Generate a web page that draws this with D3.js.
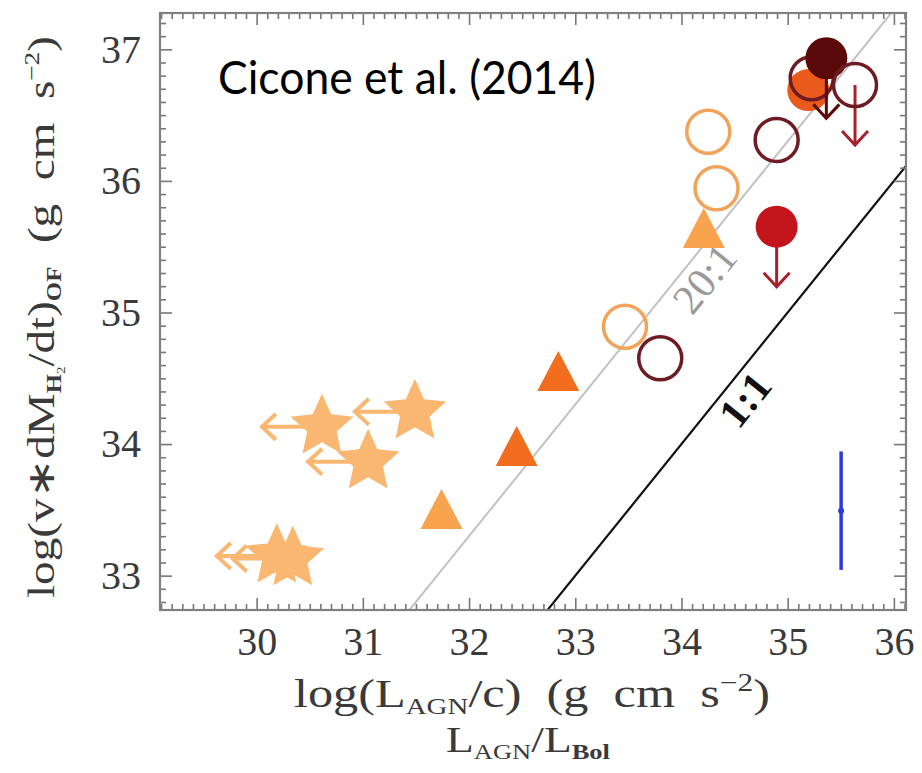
<!DOCTYPE html>
<html><head><meta charset="utf-8">
<script src="https://cdn.jsdelivr.net/npm/d3@7"></script>
<style>body{margin:0;background:#fff;} svg{display:block;} .pre{white-space:pre;}</style>
</head><body>
<svg id="c" width="922" height="773"></svg>
<script>
// ---------- data ----------
const xTicks = [30, 31, 32, 33, 34, 35, 36];
const yTicks = [33, 34, 35, 36, 37];
const xDomain = [29.09, 36.114];
const yDomain = [32.739, 37.276];

// stars: upper limits in x (left arrows)
const starX = [30.615, 31.49, 31.05, 30.19, 30.34];
const starY = [34.131, 34.246, 33.866, 33.15, 33.13];
// light orange triangles
const triLightX = [31.74, 34.21];
const triLightY = [33.507, 35.642];
// orange triangles
const triOrangeX = [32.448, 32.84];
const triOrangeY = [33.986, 34.556];
// light orange open circles
const openLightX = [33.468, 34.252, 34.33];
const openLightY = [34.892, 36.374, 35.944];
// dark red open circles
const openDarkX = [33.80, 34.896, 35.226, 35.634];
const openDarkY = [34.652, 36.311, 36.78, 36.729];
const openDarkLimit = [false, false, false, true];
// filled circles
const filledX = [35.194, 34.896, 35.364];
const filledY = [36.69, 35.652, 36.932];
const filledKind = ["orange", "red", "maroon"];
const filledLimit = [false, true, true];
// typical error bar
const errX = [35.503];
const errY = [33.494];
const errSize = [0.45];
// reference lines: outflow momentum rate = ratio * L/c
const lineRatio = [20, 1];
const lineLabel = ["20:1", "1:1"];
const lineLabelAt = [34.06, 34.44];

// ---------- layout ----------
const L = 160, R = 906, T = 13, B = 610;
const svg = d3.select("#c");
const x = d3.scaleLinear().domain(xDomain).range([L, R]);
const y = d3.scaleLinear().domain(yDomain).range([B, T]);

const C = {
  star: "#f9b771", triLight: "#f8a34e", triOrange: "#f26d1e",
  openLight: "#f1a35a", openDark: "#6e1c24",
  orange: "#e95a1c", red: "#c3161c", maroon: "#5a0909",
  arrowRed: "#a8202a", err: "#2a3adf"
};

svg.append("defs").append("clipPath").attr("id", "pc")
  .append("rect").attr("x", L).attr("y", T).attr("width", R - L).attr("height", B - T);

// ---------- reference lines ----------
const lg = svg.append("g").attr("clip-path", "url(#pc)");
lineRatio.forEach((r, i) => {
  const off = Math.log10(r);
  const x0 = xDomain[0] - 1, x1 = xDomain[1] + 1;
  lg.append("line")
    .attr("x1", x(x0)).attr("y1", y(x0 + off))
    .attr("x2", x(x1)).attr("y2", y(x1 + off))
    .attr("stroke", r === 1 ? "#111" : "#c2c2c2")
    .attr("stroke-width", r === 1 ? 2.2 : 2);
});
const ang = -Math.atan2(y(yDomain[0]) - y(yDomain[0] + 1), x(xDomain[0] + 1) - x(xDomain[0])) * 180 / Math.PI;
lineRatio.forEach((r, i) => {
  const off = Math.log10(r);
  const xv = lineLabelAt[i];
  const px = x(xv), py = y(xv + off);
  const a = ang * Math.PI / 180;
  const d = 21;
  const cx = px + d * Math.sin(-a), cy = py + d * Math.cos(-a);
  svg.append("text")
    .attr("transform", `translate(${cx},${cy}) rotate(${ang})`)
    .attr("text-anchor", "middle").attr("dy", "0.35em")
    .attr("font-family", "Liberation Serif").attr("font-size", 42)
    .attr("font-weight", r === 1 ? "bold" : "normal")
    .attr("fill", r === 1 ? "#111" : "#9a9a9a")
    .text(lineLabel[i]);
});

// ---------- axes frame & ticks ----------
function minors(dom) {
  const out = [];
  for (let v = Math.ceil(dom[0] * 10); v <= Math.floor(dom[1] * 10); v++) {
    if (v % 10 !== 0) out.push(v / 10);
  }
  return out;
}
const axG = svg.append("g").attr("class", "axes");
function styleAxis(g) {
  g.select(".domain").remove();
  g.selectAll(".tick line").attr("stroke", "#777").attr("stroke-width", 1.6);
}
const tickFont = g => g.selectAll("text").attr("font-family", "Liberation Serif").attr("font-size", 40).attr("fill", "#3a3a3a");
axG.append("g").attr("transform", `translate(0,${B})`)
  .call(d3.axisBottom(x).tickValues(minors(xDomain)).tickSize(-6).tickFormat("")).call(styleAxis);
axG.append("g").attr("transform", `translate(0,${B})`)
  .call(d3.axisBottom(x).tickValues(xTicks).tickSize(-12).tickPadding(17).tickFormat(d3.format("d")))
  .call(styleAxis).call(tickFont);
axG.append("g").attr("transform", `translate(0,${T})`)
  .call(d3.axisTop(x).tickValues(minors(xDomain)).tickSize(-6).tickFormat("")).call(styleAxis);
axG.append("g").attr("transform", `translate(0,${T})`)
  .call(d3.axisTop(x).tickValues(xTicks).tickSize(-12).tickFormat("")).call(styleAxis);
axG.append("g").attr("transform", `translate(${L},0)`)
  .call(d3.axisLeft(y).tickValues(minors(yDomain)).tickSize(-6).tickFormat("")).call(styleAxis);
axG.append("g").attr("transform", `translate(${L},0)`)
  .call(d3.axisLeft(y).tickValues(yTicks).tickSize(-12).tickPadding(19).tickFormat(d3.format("d")))
  .call(styleAxis).call(tickFont);
axG.append("g").attr("transform", `translate(${R},0)`)
  .call(d3.axisRight(y).tickValues(minors(yDomain)).tickSize(-6).tickFormat("")).call(styleAxis);
axG.append("g").attr("transform", `translate(${R},0)`)
  .call(d3.axisRight(y).tickValues(yTicks).tickSize(-12).tickFormat("")).call(styleAxis);
axG.append("rect").attr("x", L).attr("y", T).attr("width", R - L).attr("height", B - T)
  .attr("fill", "none").attr("stroke", "#808080").attr("stroke-width", 2.2);

// ---------- marker shapes ----------
function starPath(cx, cy, ro, ri) {
  const p = [];
  for (let k = 0; k < 10; k++) {
    const r = k % 2 === 0 ? ro : ri;
    const a = -Math.PI / 2 + k * Math.PI / 5;
    p.push([cx + r * Math.cos(a), cy + r * Math.sin(a)]);
  }
  return "M" + p.map(q => q.join(",")).join("L") + "Z";
}
function triPath(cx, cy, w, h) {
  return `M${cx},${cy - h / 2}L${cx + w / 2},${cy + h / 2}L${cx - w / 2},${cy + h / 2}Z`;
}
function arrow(g, x1, y1, x2, y2, color, sw, head) {
  g.append("line").attr("x1", x1).attr("y1", y1).attr("x2", x2).attr("y2", y2)
    .attr("stroke", color).attr("stroke-width", sw);
  const a = Math.atan2(y2 - y1, x2 - x1);
  const s = 0.75;
  const p1 = [x2 - head * Math.cos(a - s), y2 - head * Math.sin(a - s)];
  const p2 = [x2 - head * Math.cos(a + s), y2 - head * Math.sin(a + s)];
  g.append("path").attr("d", `M${p1}L${x2},${y2}L${p2}`)
    .attr("fill", "none").attr("stroke", color).attr("stroke-width", sw)
    .attr("stroke-linejoin", "miter");
}

const mg = svg.append("g");

const starIdx = d3.range(starX.length);
starIdx.forEach(i => {
  arrow(mg, x(starX[i]), y(starY[i]), x(starX[i]) - 60, y(starY[i]), C.star, 4, 19);
});
mg.selectAll(".star").data(starIdx).join("path").attr("class", "star")
  .attr("d", i => starPath(x(starX[i]), y(starY[i]), 33, 15.5))
  .attr("fill", C.star);

mg.selectAll(".triL").data(d3.range(triLightX.length)).join("path").attr("class", "triL")
  .attr("d", i => triPath(x(triLightX[i]), y(triLightY[i]), 42, 40)).attr("fill", C.triLight);
mg.selectAll(".triO").data(d3.range(triOrangeX.length)).join("path").attr("class", "triO")
  .attr("d", i => triPath(x(triOrangeX[i]), y(triOrangeY[i]), 42, 40)).attr("fill", C.triOrange);

mg.selectAll(".oL").data(d3.range(openLightX.length)).join("circle").attr("class", "oL")
  .attr("cx", i => x(openLightX[i])).attr("cy", i => y(openLightY[i])).attr("r", 21.5)
  .attr("fill", "none").attr("stroke", C.openLight).attr("stroke-width", 3.5);

function filled(i) {
  const col = C[filledKind[i]];
  if (filledLimit[i]) {
    arrow(mg, x(filledX[i]), y(filledY[i]), x(filledX[i]), y(filledY[i]) + 60,
      filledKind[i] === "maroon" ? C.maroon : C.arrowRed, 3, 19);
  }
  mg.append("circle").attr("cx", x(filledX[i])).attr("cy", y(filledY[i])).attr("r", 21)
    .attr("fill", col);
}
function openDark(i) {
  if (openDarkLimit[i]) {
    arrow(mg, x(openDarkX[i]), y(openDarkY[i]), x(openDarkX[i]), y(openDarkY[i]) + 60, C.arrowRed, 3, 19);
  }
  mg.append("circle").attr("cx", x(openDarkX[i])).attr("cy", y(openDarkY[i])).attr("r", 21.5)
    .attr("fill", "none").attr("stroke", C.openDark).attr("stroke-width", 3.5);
}
filled(1);
openDark(0); openDark(1);
filled(0);
openDark(2);
filled(2);
openDark(3);

errX.forEach((v, i) => {
  mg.append("line").attr("x1", x(v)).attr("x2", x(v))
    .attr("y1", y(errY[i] - errSize[i])).attr("y2", y(errY[i] + errSize[i]))
    .attr("stroke", C.err).attr("stroke-width", 3.5);
  mg.append("circle").attr("cx", x(v)).attr("cy", y(errY[i])).attr("r", 3).attr("fill", C.err);
});

// ---------- texts ----------
svg.append("text").attr("x", 218).attr("y", 94)
  .attr("font-family", "Lato").attr("font-size", 46).attr("fill", "#000")
  .attr("textLength", 378).attr("lengthAdjust", "spacingAndGlyphs")
  .text("Cicone et al. (2014)");

const ft = "Liberation Serif";
const xl = svg.append("text").attr("class", "pre").attr("x", 532).attr("y", 707).attr("text-anchor", "middle")
  .attr("font-family", ft).attr("font-size", 40).attr("fill", "#3a3a3a")
  .attr("textLength", 476).attr("lengthAdjust", "spacingAndGlyphs");
xl.append("tspan").text("log(L");
xl.append("tspan").attr("font-size", 23).attr("dy", 7).text("AGN");
xl.append("tspan").attr("dy", -7).text("/c)  (g  cm  s");
xl.append("tspan").attr("font-size", 25).attr("dy", -16).text("−2");
xl.append("tspan").attr("dy", 16).text(")");

const xl2 = svg.append("text").attr("x", 528).attr("y", 752).attr("text-anchor", "middle")
  .attr("font-family", ft).attr("font-size", 36).attr("fill", "#3a3a3a")
  .attr("textLength", 164).attr("lengthAdjust", "spacingAndGlyphs");
xl2.append("tspan").text("L");
xl2.append("tspan").attr("font-size", 21).attr("dy", 7).text("AGN");
xl2.append("tspan").attr("dy", -7).text("/L");
xl2.append("tspan").attr("font-size", 21).attr("dy", 7).attr("font-weight", "bold").text("Bol");

const yl = svg.append("text").attr("class", "pre").attr("transform", "translate(54,317) rotate(-90)")
  .attr("text-anchor", "middle").attr("font-family", ft).attr("font-size", 38).attr("fill", "#3a3a3a")
  .attr("textLength", 562).attr("lengthAdjust", "spacingAndGlyphs");
yl.append("tspan").text("log(v∗dM");
yl.append("tspan").attr("font-size", 20).attr("dy", 7).attr("font-weight", "bold").text("H");
yl.append("tspan").attr("font-size", 12).attr("dy", 4).text("2");
yl.append("tspan").attr("dy", -11).text("/dt)");
yl.append("tspan").attr("font-size", 20).attr("dy", 7).attr("font-weight", "bold").text("OF");
yl.append("tspan").attr("dy", -7).text("  (g  cm  s");
yl.append("tspan").attr("font-size", 22).attr("dy", -15).text("−2");
yl.append("tspan").attr("dy", 15).text(")");
</script>
</body></html>
